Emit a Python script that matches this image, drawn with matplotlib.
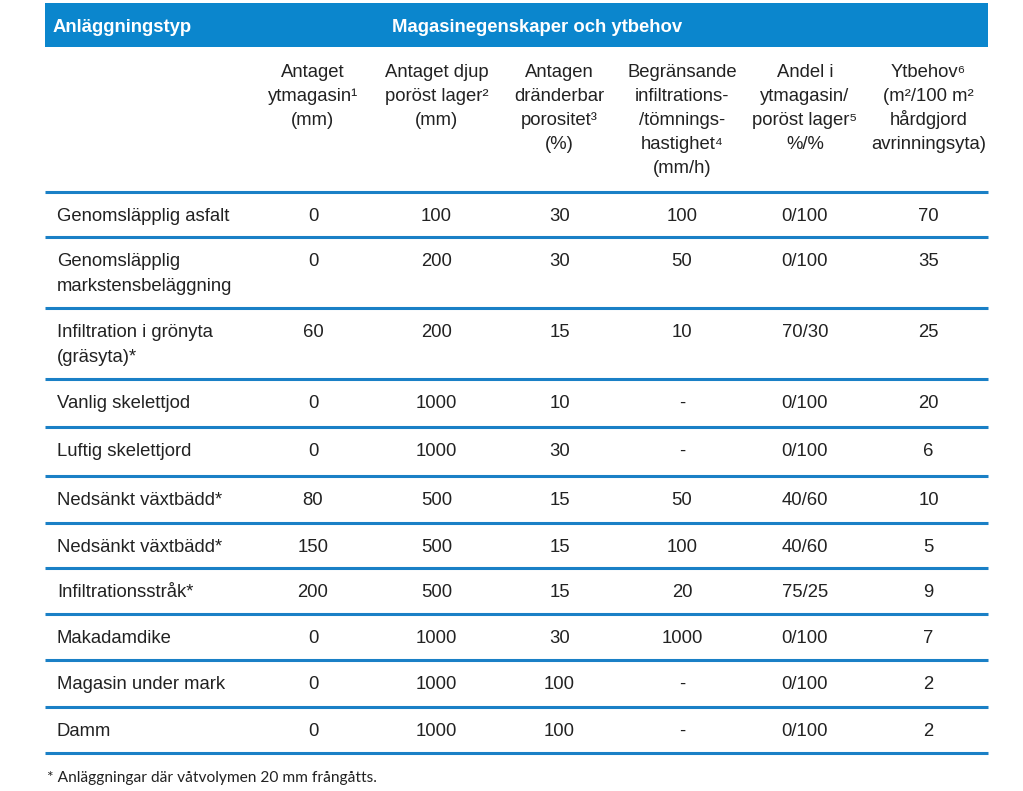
import matplotlib
matplotlib.use("Agg")
import matplotlib.pyplot as plt

# ---- data ----
row_labels = [
    "Genomsläpplig asfalt",
    "Genomsläpplig\nmarkstensbeläggning",
    "Infiltration i grönyta\n(gräsyta)*",
    "Vanlig skelettjod",
    "Luftig skelettjord",
    "Nedsänkt växtbädd*",
    "Nedsänkt växtbädd*",
    "Infiltrationsstråk*",
    "Makadamdike",
    "Magasin under mark",
    "Damm",
]
ytmagasin = ["0", "0", "60", "0", "0", "80", "150", "200", "0", "0", "0"]
djup = ["100", "200", "200", "1000", "1000", "500", "500", "500", "1000", "1000", "1000"]
porositet = ["30", "30", "15", "10", "30", "15", "15", "15", "30", "100", "100"]
infiltration = ["100", "50", "10", "-", "-", "50", "100", "20", "1000", "-", "-"]
andel = ["0/100", "0/100", "70/30", "0/100", "0/100", "40/60", "40/60", "75/25", "0/100", "0/100", "0/100"]
ytbehov = ["70", "35", "25", "20", "6", "10", "5", "9", "7", "2", "2"]

col_headers = [
    "Antaget\nytmagasin¹\n(mm)",
    "Antaget djup\nporöst lager²\n(mm)",
    "Antagen\ndränderbar\nporositet³\n(%)",
    "Begränsande\ninfiltrations-\n/tömnings-\nhastighet⁴\n(mm/h)",
    "Andel i\nytmagasin/\nporöst lager⁵\n%/%",
    "Ytbehov⁶\n(m²/100 m²\nhårdgjord\navrinningsyta)",
]
title_left = "Anläggningstyp"
title_mid = "Magasinegenskaper och ytbehov"
footnote = "* Anläggningar där våtvolymen 20 mm frångåtts."

# ---- layout ----
BLUE = "#0b86cd"
LINE = "#1a80c6"
TXT = "#222222"
W, H = 1023, 791
fig = plt.figure(figsize=(W / 100, H / 100), dpi=100)
ax = fig.add_axes([0, 0, 1, 1])
ax.set_xlim(0, W)
ax.set_ylim(H, 0)
ax.axis("off")

FONT = ["Liberation Sans", "DejaVu Sans"]
FS = 13.3
LS = 23.9  # pixel spacing between lines

x0, x1 = 45, 988
ax.add_patch(plt.Rectangle((x0, 3), x1 - x0, 43.5, color=BLUE, lw=0))
ax.text(53, 31.5, title_left, color="white", fontsize=FS, fontweight="bold",
        family=FONT, va="baseline", ha="left")
ax.text(537, 31.5, title_mid, color="white", fontsize=FS, fontweight="bold",
        family=FONT, va="baseline", ha="center")

col_x = [313, 436.5, 559.5, 682, 805, 928.5]
for cx, hdr in zip(col_x, col_headers):
    for k, line in enumerate(hdr.split("\n")):
        ax.text(cx, 77 + k * LS, line, fontsize=FS, family=FONT, ha="center",
                va="baseline", color=TXT)

row_bounds = [191.5, 237, 308, 379, 427, 476, 522.5, 568, 614, 660, 707, 753]
for yb in row_bounds:
    ax.plot([x0, x1], [yb, yb], color=LINE, lw=2.2, solid_capstyle="butt")

cols = [ytmagasin, djup, porositet, infiltration, andel, ytbehov]
for i, lab in enumerate(row_labels):
    base = row_bounds[i] + 29.3
    for k, line in enumerate(lab.split("\n")):
        ax.text(57, base + k * 24.3, line, fontsize=FS, family=FONT, ha="left",
                va="baseline", color=TXT)
    for cx, col in zip(col_x, cols):
        ax.text(cx, base, col[i], fontsize=FS, family=FONT, ha="center",
                va="baseline", color=TXT)

ax.text(47, 782, footnote, fontsize=11.2, family=["Lato", "DejaVu Sans"],
        ha="left", va="baseline", color=TXT)

fig.savefig("out.png", dpi=100)
